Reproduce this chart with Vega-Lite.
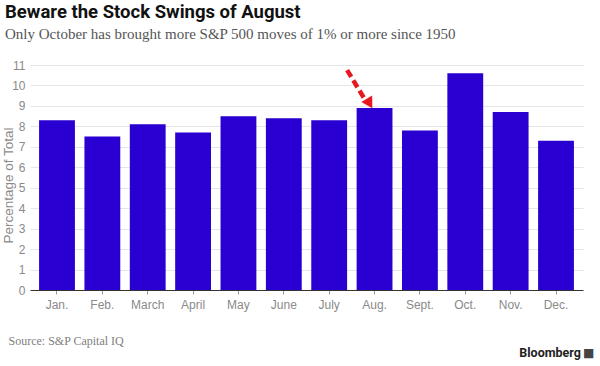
{
  "$schema": "https://vega.github.io/schema/vega-lite/v6.json",
  "width": 553,
  "height": 225,
  "autosize": {"type": "none"},
  "padding": {"left": 30, "top": 65, "right": 17, "bottom": 76},
  "background": "white",
  "title": {
    "text": "Beware the Stock Swings of August",
    "subtitle": "Only October has brought more S&P 500 moves of 1% or more since 1950",
    "anchor": "start",
    "frame": "group",
    "dx": -25,
    "offset": 17,
    "font": "Roboto",
    "fontSize": 18.5,
    "fontWeight": "bold",
    "color": "#111111",
    "subtitleFont": "Liberation Serif",
    "subtitleFontSize": 15,
    "subtitleColor": "#555555",
    "subtitlePadding": 6
  },
  "config": {
    "view": {"stroke": null},
    "axis": {"labelFont": "Liberation Sans", "titleFont": "Liberation Sans"}
  },
  "resolve": {"axis": {"x": "independent", "y": "independent"}},
  "datasets": {
    "months": [
      {"month": "Jan.", "pct": 8.3},
      {"month": "Feb.", "pct": 7.5},
      {"month": "March", "pct": 8.1},
      {"month": "April", "pct": 7.7},
      {"month": "May", "pct": 8.5},
      {"month": "June", "pct": 8.4},
      {"month": "July", "pct": 8.3},
      {"month": "Aug.", "pct": 8.9},
      {"month": "Sept.", "pct": 7.8},
      {"month": "Oct.", "pct": 10.6},
      {"month": "Nov.", "pct": 8.7},
      {"month": "Dec.", "pct": 7.3}
    ]
  },
  "layer": [
    {
      "data": {"name": "months"},
      "mark": {"type": "bar", "color": "#2a00d2"},
      "encoding": {
        "x": {
          "field": "month",
          "type": "ordinal",
          "sort": null,
          "scale": {
            "domain": ["Jan.", "Feb.", "March", "April", "May", "June", "July", "Aug.", "Sept.", "Oct.", "Nov.", "Dec."],
            "paddingInner": 0.21,
            "paddingOuter": 0.2
          },
          "axis": {
            "title": "Source: S&P Capital IQ",
            "titleFont": "Liberation Serif",
            "titleFontSize": 12,
            "titleFontWeight": "normal",
            "titleColor": "#808080",
            "titleAnchor": "start",
            "titleAlign": "left",
            "titleBaseline": "middle",
            "titleX": -22,
            "titleY": 50,
            "labelAngle": 0,
            "labelColor": "#8a8a8a",
            "labelFontSize": 12,
            "labelPadding": 5,
            "domainColor": "#333333",
            "domainWidth": 1,
            "tickColor": "#999999",
            "tickSize": 4,
            "grid": false
          }
        },
        "y": {
          "field": "pct",
          "type": "quantitative",
          "scale": {"domain": [0, 11], "nice": false},
          "axis": {
            "title": "Percentage of Total",
            "titleColor": "#8a8a8a",
            "titleFontSize": 13.5,
            "titleFontWeight": "normal",
            "titleX": -22,
            "titleY": 120,
            "titleBaseline": "middle",
            "values": [0, 1, 2, 3, 4, 5, 6, 7, 8, 9, 10, 11],
            "labelOverlap": false,
            "labelColor": "#8a8a8a",
            "labelFontSize": 12,
            "labelPadding": 5,
            "domain": false,
            "ticks": false,
            "gridColor": "#e6e6e6"
          }
        }
      }
    },
    {
      "data": {"values": [{"x1": "July", "y1": 10.75, "x2": "Aug.", "y2": 9.4}]},
      "mark": {"type": "rule", "color": "#e8191e", "strokeWidth": 4.5, "strokeDash": [8, 4]},
      "encoding": {
        "x": {"field": "x1", "type": "ordinal", "bandPosition": 1, "axis": null},
        "y": {"field": "y1", "type": "quantitative", "axis": null},
        "x2": {"field": "x2", "bandPosition": 0.2},
        "y2": {"field": "y2"}
      }
    },
    {
      "data": {"values": [{"x": "Aug.", "y": 9.12}]},
      "mark": {"type": "point", "shape": "triangle-up", "filled": true, "color": "#e8191e", "opacity": 1, "size": 160, "angle": 149},
      "encoding": {
        "x": {"field": "x", "type": "ordinal", "bandPosition": 0.36, "axis": null},
        "y": {"field": "y", "type": "quantitative", "axis": null}
      }
    },
    {
      "data": {"values": [{"x": "Dec.", "y": -3.07, "label": "Bloomberg"}]},
      "mark": {"type": "text", "align": "right", "baseline": "middle", "font": "Roboto", "fontWeight": "bold", "fontSize": 12.5, "color": "#222222", "dx": 7},
      "encoding": {
        "x": {"field": "x", "type": "ordinal", "bandPosition": 1, "axis": null},
        "y": {"field": "y", "type": "quantitative", "axis": null},
        "text": {"field": "label"}
      }
    },
    {
      "data": {"values": [{"x": "Dec.", "y": -3.07, "label": "■"}]},
      "mark": {"type": "text", "align": "left", "baseline": "middle", "font": "DejaVu Sans", "fontSize": 12, "color": "#444444", "dx": 9},
      "encoding": {
        "x": {"field": "x", "type": "ordinal", "bandPosition": 1, "axis": null},
        "y": {"field": "y", "type": "quantitative", "axis": null},
        "text": {"field": "label"}
      }
    }
  ]
}
